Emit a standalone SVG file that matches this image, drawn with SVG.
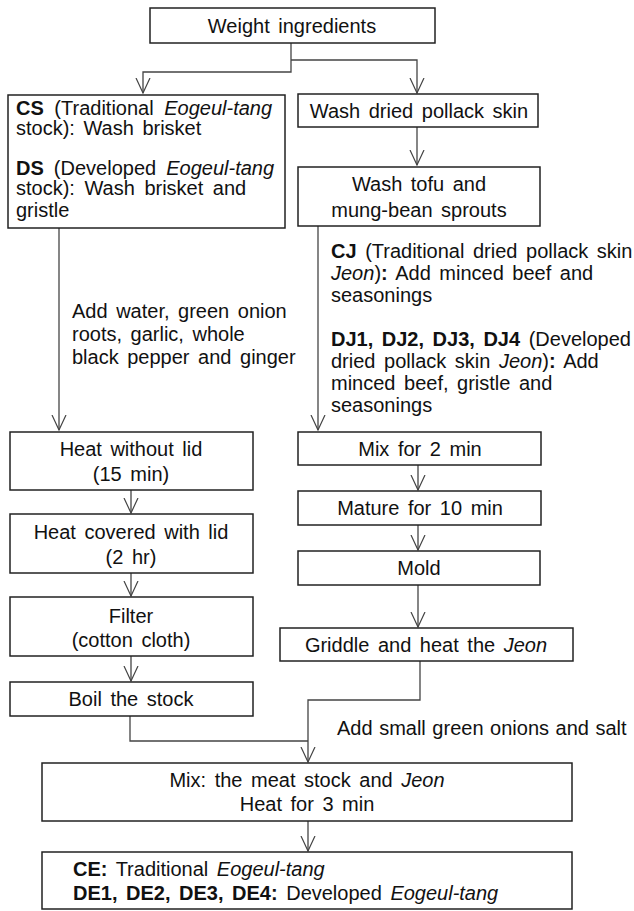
<svg xmlns="http://www.w3.org/2000/svg" width="634" height="911" viewBox="0 0 634 911">
<defs>
<style>
.b{fill:#fff;stroke:#222;stroke-width:1.5}
.c{fill:none;stroke:#444;stroke-width:1.3}
text{font-family:"Liberation Sans",Arial,sans-serif;font-size:20px;fill:#111;word-spacing:3px}
.m{text-anchor:middle}
.bd{font-weight:bold}
.it{font-style:italic}
</style>
<marker id="ah" viewBox="0 0 16 16" refX="15" refY="8" markerWidth="16" markerHeight="16" markerUnits="userSpaceOnUse" orient="auto">
<path d="M0,1 L15,8 L0,15" fill="none" stroke="#444" stroke-width="1.2"/>
</marker>
</defs>
<rect width="634" height="911" fill="#fff"/>
<g id="connectors">
<path class="c" d="M291,43 V72 H143 V93" marker-end="url(#ah)"/>
<path class="c" d="M291,60 H417 V93" marker-end="url(#ah)"/>
<path class="c" d="M417,127 V165" marker-end="url(#ah)"/>
<path class="c" d="M59,228 V430" marker-end="url(#ah)"/>
<path class="c" d="M318,226 V430" marker-end="url(#ah)"/>
<path class="c" d="M131,490 V513" marker-end="url(#ah)"/>
<path class="c" d="M131,573 V596" marker-end="url(#ah)"/>
<path class="c" d="M131,656 V681" marker-end="url(#ah)"/>
<path class="c" d="M418,465 V490" marker-end="url(#ah)"/>
<path class="c" d="M418,525 V550" marker-end="url(#ah)"/>
<path class="c" d="M418,585 V627" marker-end="url(#ah)"/>
<path class="c" d="M130,716 V741 H308"/>
<path class="c" d="M420,661 V700 H308 V762" marker-end="url(#ah)"/>
<path class="c" d="M308,821 V851" marker-end="url(#ah)"/>
</g>
<g id="n-weight"><rect class="b" x="150" y="8" width="285" height="35"/><text class="m" x="292" y="33">Weight ingredients</text></g>
<g id="n-cs"><rect class="b" x="8" y="95" width="277" height="133"/>
<text x="16" y="115" style="word-spacing:5px"><tspan class="bd">CS</tspan> (Traditional <tspan class="it">Eogeul-tang</tspan></text>
<text x="16" y="135">stock): Wash brisket</text>
<text x="16" y="175" style="word-spacing:4.5px"><tspan class="bd">DS</tspan> (Developed <tspan class="it">Eogeul-tang</tspan></text>
<text x="16" y="195" style="word-spacing:4px">stock): Wash brisket and</text>
<text x="16" y="217">gristle</text>
</g>
<g id="n-pollack"><rect class="b" x="298" y="94" width="240" height="33"/><text class="m" x="419" y="118">Wash dried pollack skin</text></g>
<g id="n-tofu"><rect class="b" x="298" y="167" width="242" height="59"/><text class="m" x="419" y="191">Wash tofu and</text><text class="m" x="419" y="217">mung-bean sprouts</text></g>
<g id="l-water">
<text x="72" y="318">Add water, green onion</text>
<text x="72" y="341">roots, garlic, whole</text>
<text x="72" y="364">black pepper and ginger</text>
</g>
<g id="l-cj">
<text x="331" y="258"><tspan class="bd">CJ</tspan> (Traditional dried pollack skin</text>
<text x="331" y="280"><tspan class="it">Jeon</tspan>)<tspan class="bd">:</tspan> Add minced beef and</text>
<text x="331" y="302">seasonings</text>
<text x="331" y="346"><tspan class="bd">DJ1, DJ2, DJ3, DJ4</tspan> (Developed</text>
<text x="331" y="368">dried pollack skin <tspan class="it">Jeon</tspan>)<tspan class="bd">:</tspan> Add</text>
<text x="331" y="390">minced beef, gristle and</text>
<text x="331" y="412">seasonings</text>
</g>
<g id="n-heat1"><rect class="b" x="10" y="432" width="243" height="58"/><text class="m" x="131" y="456">Heat without lid</text><text class="m" x="131" y="481">(15 min)</text></g>
<g id="n-heat2"><rect class="b" x="10" y="514" width="243" height="59"/><text class="m" x="131" y="539">Heat covered with lid</text><text class="m" x="131" y="564">(2 hr)</text></g>
<g id="n-filter"><rect class="b" x="10" y="597" width="243" height="59"/><text class="m" x="131" y="623">Filter</text><text class="m" x="131" y="647">(cotton cloth)</text></g>
<g id="n-boil"><rect class="b" x="10" y="682" width="243" height="34"/><text class="m" x="131" y="706">Boil the stock</text></g>
<g id="n-mix2"><rect class="b" x="298" y="432" width="243" height="33"/><text class="m" x="420" y="456">Mix for 2 min</text></g>
<g id="n-mature"><rect class="b" x="298" y="491" width="243" height="34"/><text class="m" x="420" y="515">Mature for 10 min</text></g>
<g id="n-mold"><rect class="b" x="298" y="551" width="242" height="34"/><text class="m" x="419" y="575">Mold</text></g>
<g id="n-griddle"><rect class="b" x="280" y="628" width="293" height="33"/><text class="m" x="426" y="652">Griddle and heat the <tspan class="it">Jeon</tspan></text></g>
<g id="l-onion"><text x="337" y="735" style="word-spacing:1px">Add small green onions and salt</text></g>
<g id="n-mixstock"><rect class="b" x="42" y="763" width="530" height="58"/><text class="m" x="307" y="787">Mix: the meat stock and <tspan class="it">Jeon</tspan></text><text class="m" x="307" y="811">Heat for 3 min</text></g>
<g id="n-final"><rect class="b" x="42" y="852" width="530" height="57"/>
<text x="73" y="876"><tspan class="bd">CE:</tspan> Traditional <tspan class="it">Eogeul-tang</tspan></text>
<text x="73" y="900"><tspan class="bd">DE1, DE2, DE3, DE4:</tspan> Developed <tspan class="it">Eogeul-tang</tspan></text>
</g>
</svg>
